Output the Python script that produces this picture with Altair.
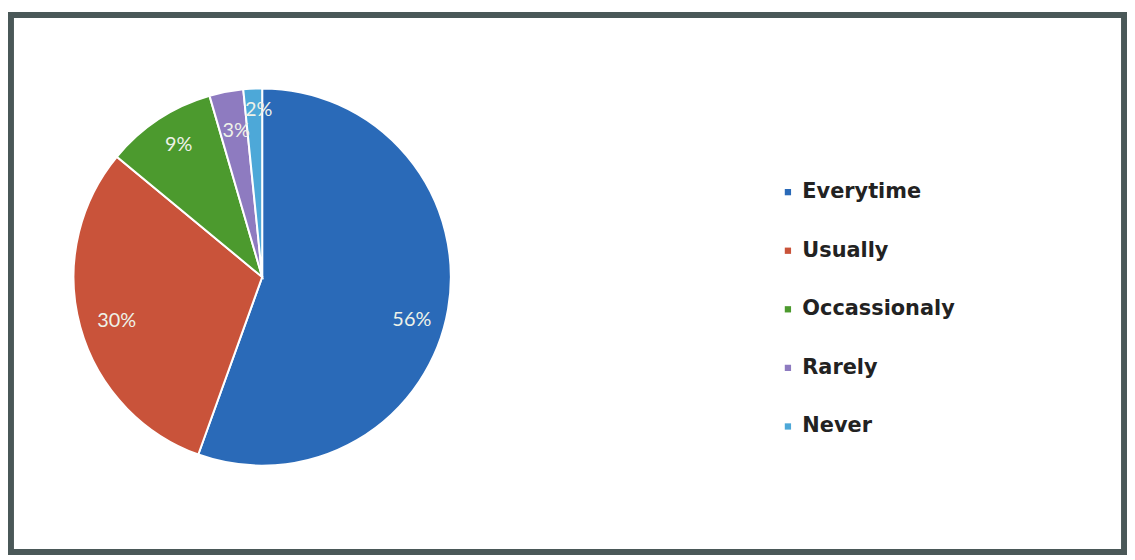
import altair as alt
import pandas as pd

categories = ["Everytime", "Usually", "Occassionaly", "Rarely", "Never"]
shares = [55.5, 30.5, 9.5, 2.9, 1.6]
labels = ["56%", "30%", "9%", "3%", "2%"]
colors = ["#2A6AB8", "#C9533A", "#4C9A2E", "#8E7BC0", "#4DA8D8"]

df = pd.DataFrame({
    "category": categories,
    "share": shares,
    "label": labels,
    "order": list(range(len(categories))),
})

CX, CY, R = 253, 264, 190

base = alt.Chart(df).encode(
    theta=alt.Theta("share:Q", stack=True),
    order=alt.Order("order:Q"),
)

pie = base.mark_arc(outerRadius=R, stroke="white", strokeWidth=2).encode(
    x=alt.value(CX),
    y=alt.value(CY),
    color=alt.Color(
        "category:N",
        scale=alt.Scale(domain=categories, range=colors),
        sort=categories,
        legend=alt.Legend(
            title=None,
            orient="none",
            legendX=772,
            legendY=168,
            symbolType="square",
            symbolSize=40,
            symbolStrokeWidth=0,
            labelFont="DejaVu Sans",
            labelFontSize=21,
            labelFontWeight="bold",
            labelColor="#222222",
            labelOffset=4,
            rowPadding=37,
        ),
    ),
)

# label placement tweaks per slice (radius, dx, dy)
placements = {
    "Everytime": (153, 0, 17),
    "Usually": (153, 1, 4),
    "Occassionaly": (153, 0, -5),
    "Rarely": (153, 3, 3),
    "Never": (169, 5, 1),
}

text_layers = []
for cat, (r, dx, dy) in placements.items():
    text_layers.append(
        base.mark_text(
            radius=r, dx=dx, dy=dy, font="Lato", fontSize=20, color="#eef2e8"
        ).encode(
            x=alt.value(CX),
            y=alt.value(CY),
            text="label:N",
            opacity=alt.condition(alt.datum.category == cat, alt.value(1), alt.value(0)),
        )
    )

chart = (
    alt.layer(pie, *text_layers)
    .properties(
        width=1121,
        height=541,
        padding={"left": 3, "top": 5, "right": 3, "bottom": 3},
    )
    .configure(background="white")
    .configure_view(stroke="#4a5858", strokeWidth=6)
)

chart.save("out.html", embed_options={"renderer": "svg", "actions": False})
